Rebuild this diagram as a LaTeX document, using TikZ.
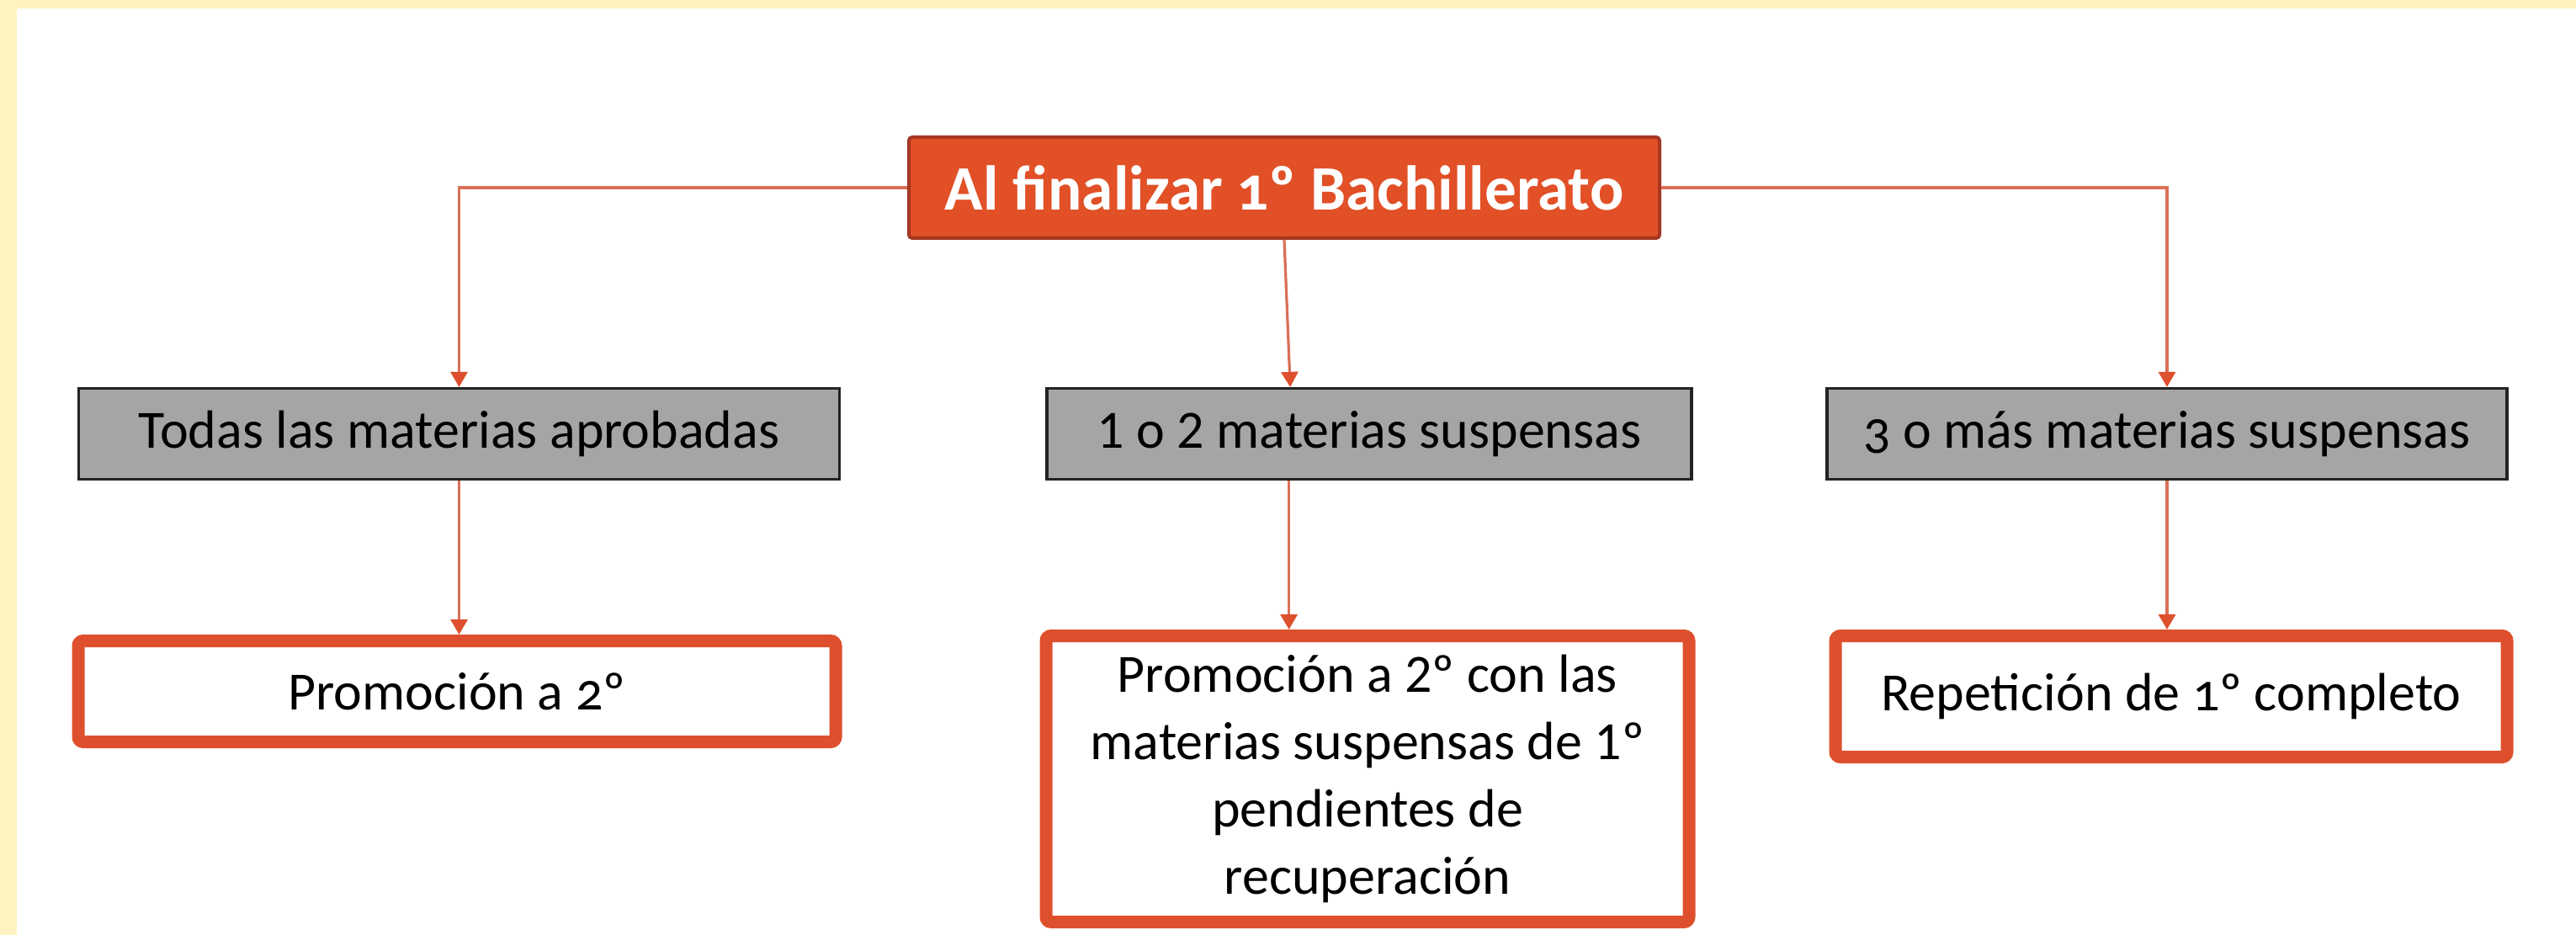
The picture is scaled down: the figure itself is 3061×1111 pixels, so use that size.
\documentclass[tikz,border=0pt]{standalone}
\usepackage{fontspec}
\setmainfont{Carlito}
\newfontfamily\osf{Carlito}[Numbers=OldStyle]
\usetikzlibrary{arrows.meta,calc}
\definecolor{bgyellow}{RGB}{255,243,194}
\definecolor{orfill}{RGB}{225,80,38}
\definecolor{ordark}{RGB}{165,55,35}
\definecolor{orline}{RGB}{222,80,45}
\definecolor{connc}{RGB}{218,112,88}
\definecolor{greyfill}{RGB}{165,165,165}
\definecolor{greyline}{RGB}{35,35,35}
\begin{document}
\begin{tikzpicture}[x=0.25pt,y=-0.25pt,
  topbox/.style={draw=ordark, line width=1pt, fill=orfill, rounded corners=1pt,
    text=white, font=\osf\fontsize{18.8}{22}\selectfont\bfseries, inner sep=0pt,
    minimum width=223pt, minimum height=30pt},
  condbox/.style={draw=greyline, line width=0.8pt, fill=greyfill,
    font=\fontsize{16}{20}\selectfont, inner sep=0pt, minimum height=27pt},
  resbox/.style={draw=orline, line width=3.75pt, fill=white, rounded corners=1.5pt,
    font=\fontsize{16}{20}\selectfont, align=center, inner sep=0pt},
  connector/.style={draw=connc, line width=0.8pt,
    -{Triangle[width=5pt,length=4.5pt,color=orline]}},
  plainline/.style={draw=connc, line width=0.8pt}]
  \useasboundingbox (0,0) rectangle (3061,1111);
  \fill[bgyellow] (0,0) rectangle (3061,1111);
  \fill[white] (20,10) rectangle (3061,1111);

  % top
  \node[topbox] (top) at (1526,223) {Al finalizar 1º Bachillerato};

  % conditions
  \node[condbox, minimum width=226pt] (G1) at (545.5,515.5) {Todas las materias aprobadas};
  \node[condbox, minimum width=191.5pt] (G2) at (1627,515.5) {1 o 2 materias suspensas};
  \node[condbox, minimum width=202pt, font=\osf\fontsize{16}{20}\selectfont] (G3) at (2575,515.5) {3 o más materias suspensas};

  % results
  \node[resbox, minimum width=225pt, minimum height=30pt, font=\osf\fontsize{16}{20}\selectfont] (B1) at (543,821.5) {Promoción a 2º};
  \node[resbox, minimum width=191pt, minimum height=85pt] (B2) at (1625,925.5)
    {Promoción a 2º con las\\materias suspensas de 1º\\pendientes de\\recuperación};
  \node[resbox, minimum width=199.5pt, minimum height=36pt, font=\osf\fontsize{16}{20}\selectfont] (B3) at (2580,827.5) {Repetición de 1º completo};

  % connectors from top
  \draw[connector] (top.west) -| (G1.north);
  \draw[connector] (top.east) -| (G3.north);
  \coordinate (g2n) at ($(G2.north west)!0.378!(G2.north east)$);
  \draw[connector] (top.south) -- (g2n);

  % connectors to results
  \draw[connector] (G1.south) -- (G1.south |- B1.north);
  \coordinate (g2s) at ($(G2.south west)!0.376!(G2.south east)$);
  \draw[connector] (g2s) -- (g2s |- B2.north);
  \draw[connector] (G3.south) -- (G3.south |- B3.north);
\end{tikzpicture}
\end{document}
